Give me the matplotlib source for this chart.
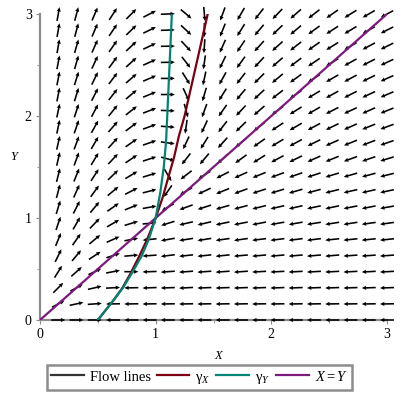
import numpy as np
import matplotlib.pyplot as plt
from matplotlib.lines import Line2D

plt.rcParams['font.family'] = ['Liberation Serif', 'DejaVu Serif']
plt.rcParams['mathtext.fontset'] = 'custom'
plt.rcParams['mathtext.rm'] = 'Liberation Serif'
plt.rcParams['mathtext.it'] = 'Liberation Serif:italic'

# direction field grid: 20 x 20 over [0,3]^2, the x=0 column carries no arrow
x_grid = np.linspace(0, 3, 20)[1:]
y_grid = np.linspace(0, 3, 20)

# arrow direction (degrees, on screen), top row (Y=3) first
field_angles = [
    [80, 75, 67, 57, 45, 27, 2, 320, 275, 250, 240, 232, 226, 221, 218, 215, 212, 210, 208],
    [80, 75, 67, 56, 44, 26, 2, 317, 270, 248, 238, 230, 224, 220, 216, 213, 211, 209, 207],
    [80, 74, 66, 55, 43, 25, 1, 313, 266, 246, 236, 228, 222, 218, 215, 212, 210, 208, 206],
    [79, 74, 65, 54, 42, 24, 1, 308, 262, 244, 234, 227, 221, 217, 214, 211, 209, 207, 205],
    [79, 73, 64, 53, 41, 23, 0, 302, 258, 241, 232, 225, 220, 216, 213, 210, 208, 206, 204],
    [79, 73, 63, 52, 40, 22, 0, 295, 254, 238, 230, 223, 218, 214, 211, 209, 207, 205, 203],
    [78, 72, 62, 51, 38, 21, -2, 285, 250, 235, 227, 221, 216, 212, 210, 207, 205, 204, 202],
    [78, 71, 61, 49, 37, 20, -4, 262, 245, 232, 224, 218, 213, 210, 208, 206, 204, 202, 200],
    [77, 70, 60, 48, 35, 19, -8, 245, 238, 228, 220, 215, 211, 208, 206, 204, 202, 201, 199],
    [77, 70, 59, 47, 34, 18, -15, 232, 230, 222, 216, 212, 208, 206, 204, 202, 200, 199, 197],
    [76, 68, 57, 44, 31, 17, -60, 218, 212, 207, 204, 202, 200, 199, 198, 197, 196, 195, 194],
    [75, 66, 54, 40, 27, 14, 235, 210, 205, 202, 200, 198, 197, 196, 195, 194, 193, 193, 192],
    [73, 63, 50, 35, 22, 10, 210, 200, 198, 196, 195, 194, 193, 193, 192, 192, 191, 191, 190],
    [71, 60, 46, 30, 17, 5, 197, 193, 193, 192, 191, 191, 190, 190, 189, 189, 189, 188, 188],
    [68, 55, 40, 24, 11, 186, 190, 189, 189, 188, 188, 187, 187, 187, 187, 186, 186, 186, 186],
    [64, 50, 33, 18, 5, 184, 187, 186, 186, 186, 185, 185, 185, 185, 185, 185, 184, 184, 184],
    [58, 42, 25, 11, 0, 182, 184, 184, 184, 184, 184, 183, 183, 183, 183, 183, 183, 183, 183],
    [45, 28, 13, 3, 181, 182, 182, 183, 182, 182, 182, 182, 182, 182, 182, 182, 182, 182, 182],
    [28, 12, 4, 181, 181, 181, 181, 181, 181, 181, 181, 181, 181, 181, 181, 181, 181, 181, 181],
    [0, 0, 0, 180, 180, 180, 180, 180, 180, 180, 180, 180, 180, 180, 180, 180, 180, 180, 180],
]

# curves
gamma_x_X = [0.5, 0.57, 0.64, 0.71, 0.78, 0.86, 0.93, 1.0, 1.06, 1.11, 1.16, 1.2, 1.25, 1.35, 1.45]
gamma_x_Y = [0.0, 0.1, 0.2, 0.31, 0.45, 0.63, 0.8, 1.0, 1.2, 1.4, 1.6, 1.8, 2.0, 2.5, 3.0]
gamma_y_X = [0.5, 0.57, 0.64, 0.72, 0.8, 0.88, 0.94, 1.0, 1.04, 1.07, 1.09, 1.10, 1.12, 1.14]
gamma_y_Y = [0.0, 0.1, 0.2, 0.32, 0.47, 0.63, 0.79, 1.0, 1.25, 1.5, 1.75, 2.0, 2.5, 3.0]
diag = [0, 3]

fig = plt.figure(figsize=(4, 4), dpi=100)
ax = fig.add_axes([0.10, 0.20, 0.8675, 0.765])

X, Y = np.meshgrid(x_grid, y_grid[::-1])
ang = np.radians(np.array(field_angles, dtype=float))
arrow_len = 14  # pixels
U = np.cos(ang) * arrow_len
V = np.sin(ang) * arrow_len
ax.quiver(X, Y, U, V, angles='uv', scale_units='dots', scale=1, pivot='middle',
          units='dots', width=1.6, headwidth=2.6, headlength=2.8, headaxislength=2.6,
          color='black', clip_on=False, zorder=3)

ax.plot(diag, diag, color='#7d1a7d', lw=1.6, zorder=4)
ax.plot(gamma_x_X, gamma_x_Y, color='#7a0012', lw=1.6, zorder=4)
ax.plot(gamma_y_X, gamma_y_Y, color='#008473', lw=1.6, zorder=4)

ax.set_xlim(0, 3)
ax.set_ylim(0, 3)
for s in ['top', 'right']:
    ax.spines[s].set_visible(False)
for s in ['left', 'bottom']:
    ax.spines[s].set_color('#8c8c8c')
    ax.spines[s].set_linewidth(1.6)
ax.set_xticks([0, 1, 2, 3])
ax.set_yticks([0, 1, 2, 3])
ax.set_xticks([0.5, 1.5, 2.5], minor=True)
ax.set_yticks([0.5, 1.5, 2.5], minor=True)
ax.tick_params(which='major', direction='out', length=3, color='#8c8c8c', labelsize=10, pad=3)
ax.tick_params(which='minor', direction='out', length=2, color='#8c8c8c')

ax.set_xlabel('X', style='italic', fontsize=9)
ax.set_ylabel('Y', style='italic', fontsize=9, rotation=0)
ax.xaxis.set_label_coords(0.513, -0.098)
ax.yaxis.set_label_coords(-0.075, 0.513)

handles = [Line2D([], [], color='#333333', lw=1.6),
           Line2D([], [], color='#7a0012', lw=1.6),
           Line2D([], [], color='#008473', lw=1.6),
           Line2D([], [], color='#7d1a7d', lw=1.6)]
labels = ['Flow lines', r'γ$_X$', r'γ$_Y$', r'$X = Y$']
leg = fig.legend(handles, labels, loc='center', bbox_to_anchor=(0.499, 0.056), ncol=4,
                 fancybox=False, edgecolor='#8c8c8c', framealpha=1, fontsize=10.5,
                 handlelength=2.25, handletextpad=0.4, columnspacing=0.4, borderpad=0.3,
                 borderaxespad=0)
leg.get_frame().set_linewidth(1.8)

fig.savefig('out.png', dpi=100)
